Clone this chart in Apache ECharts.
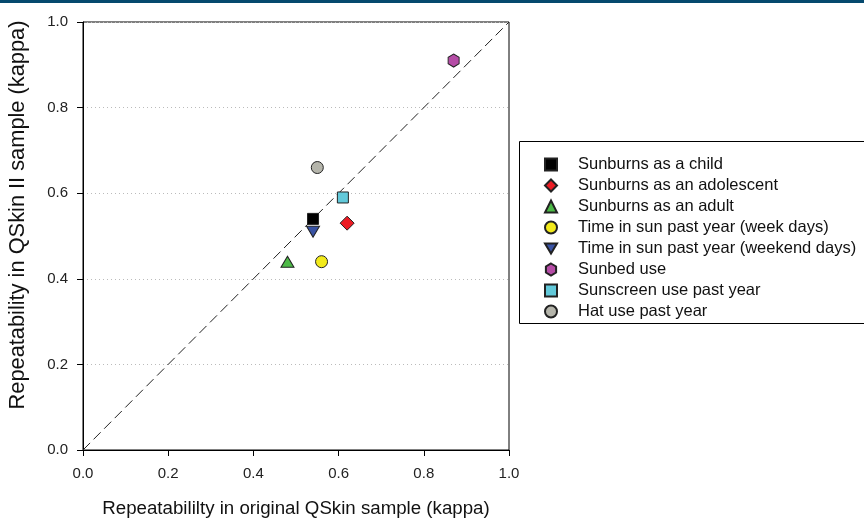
<!DOCTYPE html>
<html>
<head>
<meta charset="utf-8">
<script src="https://cdn.jsdelivr.net/npm/echarts@6/dist/echarts.min.js"></script>
<style>
  html, body { margin: 0; padding: 0; background: #fff; }
  #container { width: 864px; height: 519px; }
</style>
</head>
<body>
<div id="container"></div>
<script>
// data
var names = [
    'Sunburns as a child',
    'Sunburns as an adolescent',
    'Sunburns as an adult',
    'Time in sun past year (week days)',
    'Time in sun past year (weekend days)',
    'Sunbed use',
    'Sunscreen use past year',
    'Hat use past year'
];
var originalKappa = [0.54, 0.62, 0.48, 0.56, 0.54, 0.87, 0.61, 0.55];
var qskin2Kappa   = [0.54, 0.53, 0.44, 0.44, 0.51, 0.91, 0.59, 0.66];
var colors = ['#000000', '#ec1c24', '#4dba47', '#f2ea1b', '#3953a4', '#b54ca6', '#62c9da', '#b5b5ab'];
var symbols = [
    'rect',
    'diamond',
    'triangle',
    'circle',
    'path://M0,0 L40,0 L20,34 Z',
    'path://M17,0 L34,10 L34,30 L17,40 L0,30 L0,10 Z',
    'rect',
    'circle'
];
var symbolSizes = [[11, 11], [14, 14], [13, 11], [12, 12], [13, 11], [11, 13], [11, 11], [12, 12]];
var identityLine = [[0, 0], [1, 1]];

var chartDom = document.getElementById('container');
var myChart = echarts.init(chartDom, null, { renderer: 'canvas' });

var series = [
    {
        name: 'identity',
        type: 'line',
        data: identityLine,
        symbol: 'none',
        silent: true,
        lineStyle: { color: '#222', width: 1, type: [10, 5] },
        z: 1
    }
];

names.forEach(function (n, i) {
    series.push({
        name: n,
        type: 'scatter',
        data: [[originalKappa[i], qskin2Kappa[i]]],
        symbol: symbols[i],
        symbolSize: symbolSizes[i],
        itemStyle: {
            color: colors[i],
            opacity: 1,
            borderColor: '#222',
            borderWidth: 1
        },
        z: 3
    });
});

var font = 'Liberation Sans, Arial, sans-serif';
var axisText = { color: '#222', fontSize: 15, fontFamily: font };

var option = {
    animation: false,
    textStyle: { fontFamily: font },
    grid: {
        left: 83, right: 355, top: 22, bottom: 69,
        outerBoundsMode: 'none',
        containLabel: false,
        show: true, borderColor: '#000', borderWidth: 1
    },
    xAxis: {
        type: 'value',
        min: 0, max: 1, interval: 0.2,
        name: 'Repeatabililty in original QSkin sample (kappa)',
        nameLocation: 'middle',
        nameGap: 49,
        nameTextStyle: { color: '#111', fontSize: 18.7, fontFamily: font },
        axisLine: { show: true, lineStyle: { color: '#000', width: 1 } },
        axisTick: { show: true, length: 6, lineStyle: { color: '#000' } },
        axisLabel: Object.assign({ margin: 16, formatter: function (v) { return v.toFixed(1); } }, axisText),
        splitLine: { show: false }
    },
    yAxis: {
        type: 'value',
        min: 0, max: 1, interval: 0.2,
        name: 'Repeatability in QSkin II sample (kappa)',
        nameLocation: 'middle',
        nameGap: 54,
        nameTextStyle: { color: '#111', fontSize: 21.8, fontFamily: font, padding: [0, 0, 0, 42] },
        axisLine: { show: true, lineStyle: { color: '#000', width: 1 } },
        axisTick: { show: true, length: 6, lineStyle: { color: '#000' } },
        axisLabel: Object.assign({ margin: 15, formatter: function (v) { return v.toFixed(1); } }, axisText),
        splitLine: { show: true, lineStyle: { color: '#bbb', type: [1, 3], width: 1 } }
    },
    legend: {
        data: names,
        orient: 'vertical',
        left: 539,
        top: 151,
        itemGap: 4,
        itemWidth: 12,
        itemHeight: 12,
        textStyle: { color: '#111', fontSize: 16.5, fontFamily: font, padding: [0, 0, 0, 16] }
    },
    graphic: [
        {
            type: 'rect',
            shape: { x: 0, y: 0, width: 864, height: 3 },
            style: { fill: '#05496e' }
        },
        {
            type: 'rect',
            shape: { x: 519.5, y: 141.5, width: 360, height: 182 },
            style: { fill: 'none', stroke: '#000', lineWidth: 1 },
            z: 0
        }
    ],
    series: series
};

myChart.setOption(option);
</script>
</body>
</html>
